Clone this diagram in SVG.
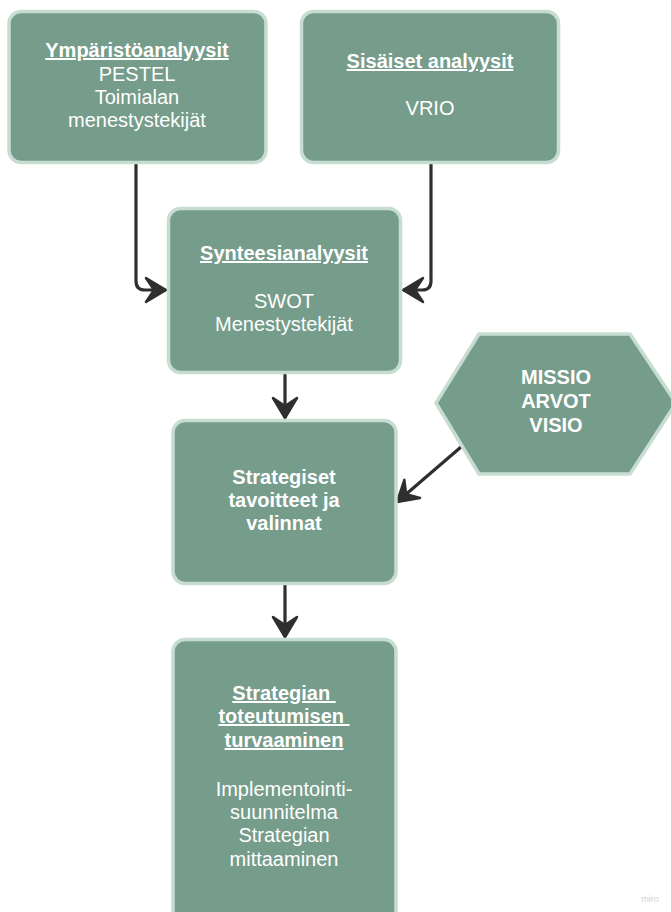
<svg xmlns="http://www.w3.org/2000/svg" width="671" height="912" viewBox="0 0 671 912">
<defs>
<style>
.box{fill:#769c8b;stroke:#c8ddd2;stroke-width:3.5}
.t{font-family:"Liberation Sans",Arial,sans-serif;font-size:20px;fill:#ffffff;text-anchor:middle}
.b{font-weight:bold}
.u{text-decoration:underline}
.c{fill:none;stroke:#2f2f2f;stroke-width:3.2}
</style>
<marker id="ah" markerUnits="userSpaceOnUse" viewBox="-24 -16 28 32" refX="0" refY="0" markerWidth="28" markerHeight="32" orient="auto">
<path d="M0,0 L-20,-12 L-12,0 L-20,12 Z" fill="#2f2f2f" stroke="#2f2f2f" stroke-width="2.5" stroke-linejoin="round"/>
</marker>
</defs>
<rect width="671" height="912" fill="#ffffff"/>
<g id="connectors">
<path class="c" d="M136,163 V281 Q136,290 145,290 H166" marker-end="url(#ah)"/>
<path class="c" d="M431,163 V281 Q431,290 422,290 H403" marker-end="url(#ah)"/>
<path class="c" d="M285,373 V418" marker-end="url(#ah)"/>
<path class="c" d="M461,447 L397,502" marker-end="url(#ah)"/>
<path class="c" d="M285,585 V637" marker-end="url(#ah)"/>
</g>
<g id="node-ymparisto">
<rect class="box" x="9" y="11.5" width="257" height="151" rx="12"/>
<text class="t b u" x="137" y="57">Ympäristöanalyysit</text>
<text class="t" x="137" y="81">PESTEL</text>
<text class="t" x="137" y="104">Toimialan</text>
<text class="t" x="137" y="127">menestystekijät</text>
</g>
<g id="node-sisaiset">
<rect class="box" x="301.5" y="11.5" width="257" height="151" rx="12"/>
<text class="t b u" x="430" y="68">Sisäiset analyysit</text>
<text class="t" x="430" y="115">VRIO</text>
</g>
<g id="node-synteesi">
<rect class="box" x="168.5" y="208.5" width="232" height="164" rx="12"/>
<text class="t b u" x="284" y="260">Synteesianalyysit</text>
<text class="t" x="284" y="308">SWOT</text>
<text class="t" x="284" y="331">Menestystekijät</text>
</g>
<g id="node-missio">
<path class="box" d="M436,403 L479,334 L630,334 L676,403 L630,474 L479,474 Z" stroke-linejoin="round"/>
<text class="t b" x="556" y="384">MISSIO</text>
<text class="t b" x="556" y="408">ARVOT</text>
<text class="t b" x="556" y="432">VISIO</text>
</g>
<g id="node-strategiset">
<rect class="box" x="173" y="420.5" width="223" height="163" rx="12"/>
<text class="t b" x="284" y="484">Strategiset</text>
<text class="t b" x="284" y="507">tavoitteet ja</text>
<text class="t b" x="284" y="530">valinnat</text>
</g>
<g id="node-toteutus">
<rect class="box" x="173" y="639.5" width="223" height="300" rx="12"/>
<text class="t b u" x="284" y="700" xml:space="preserve">Strategian </text>
<text class="t b u" x="284" y="723" xml:space="preserve">toteutumisen </text>
<text class="t b u" x="284" y="747">turvaaminen</text>
<text class="t" x="284" y="796">Implementointi-</text>
<text class="t" x="284" y="819">suunnitelma</text>
<text class="t" x="284" y="842">Strategian</text>
<text class="t" x="284" y="866">mittaaminen</text>
</g>
<text x="650" y="902" font-family="Liberation Sans, Arial, sans-serif" font-size="9" fill="#d3d3d3" text-anchor="middle">miro</text>
</svg>
